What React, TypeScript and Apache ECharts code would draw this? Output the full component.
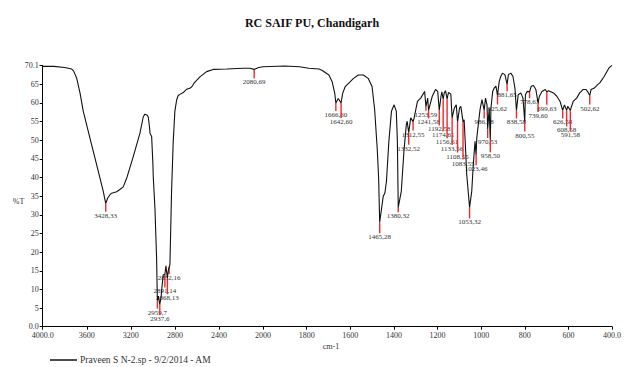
import React, { useEffect, useRef } from 'react';
import * as echarts from 'echarts';

const FONT = '"Liberation Serif", "Times New Roman", serif';

const chartTitle = 'RC SAIF PU, Chandigarh';
const seriesName = 'Praveen S N-2.sp - 9/2/2014 - AM';

// [wavenumber cm-1, %T]
const spectrum: [number, number][] = [
  [4000, 69.8], [3900, 69.8], [3800, 69.5], [3737, 69.1], [3720, 68.6], [3692, 66.7],
  [3660, 62.5], [3632, 57.8], [3571, 50.6], [3510, 43.4], [3450, 36.3], [3428, 33],
  [3410, 34.5], [3389, 35.4], [3374, 35.8], [3328, 36.2], [3300, 36.8], [3269, 37.5],
  [3238, 39.8], [3178, 45.6], [3117, 51.9], [3087, 56.3], [3072, 57.0], [3055, 56.8],
  [3042, 56.3], [3030, 53.5], [3026, 51.9], [3011, 51.0], [3000, 44], [2996, 40],
  [2981, 31.8], [2966, 18.4], [2959, 7], [2950, 8.2], [2937, 6], [2925, 8],
  [2915, 11.3], [2906, 13.9], [2891, 14], [2881, 16.3], [2868, 13], [2860, 15],
  [2852, 16], [2845, 16.6], [2830, 36.4], [2815, 49.7], [2800, 57.8], [2784, 60.8],
  [2770, 62], [2754, 62.3], [2724, 62.8], [2693, 63.7], [2660, 64.0], [2640, 64.6],
  [2624, 65.4], [2573, 67.0], [2512, 68.4], [2452, 69.0], [2330, 69.1], [2180, 69.3],
  [2120, 69.3], [2080, 69], [2040, 69.5], [2000, 69.7],
  [1900, 69.9], [1833, 69.7], [1790, 69.3], [1743, 69.1], [1728, 68.7], [1698, 67.5],
  [1683, 65.7], [1671, 62.6], [1666, 60], [1655, 61.2], [1642, 60], [1635, 62.5],
  [1623, 64.4], [1600, 65.7], [1585, 66.6], [1563, 67.5], [1540, 67.5], [1518, 66.6],
  [1500, 64.4], [1488, 58.1], [1476, 47.4], [1470, 40], [1465, 28], [1449, 34.9],
  [1441, 35.9], [1434, 39.0], [1423, 49.7], [1411, 57.8], [1399, 59.5], [1389, 57.8],
  [1384, 50], [1380, 32], [1366, 36.3], [1354, 47], [1343, 54.2], [1339, 55.1],
  [1332, 52], [1323, 56.0], [1312, 55], [1307, 56], [1292, 60.4], [1277, 61.3],
  [1259, 63.1], [1253, 59], [1245, 61.3], [1241, 58], [1224, 61.8], [1209, 63.6],
  [1199, 63.1], [1192, 58], [1184, 61.8], [1180, 63], [1174, 61], [1169, 62.7],
  [1163, 63.3], [1156, 61], [1150, 62.8], [1139, 62.4], [1133, 56], [1123, 58.6],
  [1114, 59.5], [1108, 55], [1099, 58.6], [1093, 59.1], [1083, 55], [1078, 55.5],
  [1073, 49.7], [1066, 40.8], [1058, 35.4], [1053, 32], [1043, 36.3], [1036, 43.4],
  [1028, 49.7], [1023, 46], [1020, 50.6], [1013, 54.2], [1005, 58.2], [996, 60.9],
  [986, 58], [980, 61.3], [973, 59.5], [970, 53], [963, 58.6], [958, 50],
  [955, 58.6], [947, 63.1], [940, 64], [932, 64.5], [925, 62], [917, 65.8],
  [910, 67.1], [902, 68.0], [891, 67.6], [881, 65], [875, 67.6], [864, 68.0],
  [854, 67.1], [845, 64], [838, 58], [830, 62.2], [818, 62.7], [808, 61.3],
  [800, 55], [797, 62.2], [789, 63.1], [778, 63], [770, 64.5], [760, 64.7],
  [749, 63.6], [739, 60], [733, 61.8], [721, 63.1], [706, 63.6], [699, 63],
  [691, 63.3], [668, 62.7], [653, 61.8], [638, 60.4], [626, 58], [618, 59.5],
  [608, 58], [603, 59.1], [591, 58], [588, 58.6], [578, 60.4], [562, 61.3],
  [548, 62.7], [533, 63.6], [519, 63.6], [508, 62.7], [502, 62], [496, 63.6],
  [481, 64], [466, 64.9], [456, 65.4], [436, 67.1], [414, 69.4], [400, 70.1],
];

const peakWavenumbers = [
  3428, 2080, 2959, 2937, 2891, 2868, 2852, 1666, 1642, 1465, 1380, 1332, 1312,
  1253, 1241, 1192, 1174, 1156, 1133, 1108, 1083, 1053, 1023, 986, 970, 958, 925,
  881, 838, 800, 778, 739, 699, 626, 608, 591, 502,
];
const peakTransmittance = [
  33, 69, 7, 6, 14, 13, 16, 60, 60, 28, 32, 52, 55,
  59, 58, 58, 61, 61, 56, 55, 55, 32, 46, 58, 53, 50, 62,
  65, 58, 55, 63, 60, 63, 58, 58, 58, 62,
];
// layout only: vertical distance (px) from the peak point to its label
const peakLabelDrop = [
  12, 13, 12, 15, 17, 20, 11, 12, 19, 15, 9, 16, 13,
  8, 12, 19, 36, 43, 31, 35, 42, 15, 14, 12, 13, 16, 13,
  11, 12, 14, 10.5, 13, 17, 12, 20, 25, 13,
];

const yTickLabel = (v: number) => {
  if (v === 0) return '0.0';
  if (v > 70.05) return '70.1';
  if (v === 70) return '';
  return String(v);
};

function buildOption() {
  const hi = spectrum.filter((d) => d[0] >= 2000);
  const lo = spectrum.filter((d) => d[0] <= 2000);
  const peaks = peakWavenumbers.map((w, i) => [w, peakTransmittance[i], peakLabelDrop[i]]);
  const peaksHi = peaks.filter((p) => p[0] >= 2000);
  const peaksLo = peaks.filter((p) => p[0] < 2000);

  const gridTop = 65.3;
  const gridHeight = 261.4;

  const axisCommon = {
    type: 'value' as const,
    inverse: true,
    axisLine: { show: true, lineStyle: { color: '#000', width: 1 } },
    axisTick: { show: true, length: 3, lineStyle: { color: '#000', width: 1 } },
    splitLine: { show: false },
  };

  const renderPeak = (params: any, api: any) => {
    const w = api.value(0);
    const t = api.value(1);
    const drop = api.value(2);
    const p = api.coord([w, t]);
    return {
      type: 'group',
      children: [
        {
          type: 'line',
          shape: { x1: p[0], y1: p[1], x2: p[0], y2: p[1] + drop - 4 },
          style: { stroke: '#f02828', lineWidth: 1.4 },
        },
        {
          type: 'text',
          x: p[0],
          y: p[1] + drop,
          style: {
            text: `${w},${t}`,
            fill: '#333',
            font: `7px ${FONT}`,
            align: 'center',
            verticalAlign: 'middle',
          },
        },
      ],
    };
  };

  return {
    animation: false,
    backgroundColor: '#fff',
    title: {
      text: chartTitle,
      left: 'center',
      top: 12,
      textStyle: { fontFamily: FONT, fontSize: 12, fontWeight: 'bold', color: '#111' },
    },
    legend: {
      data: [{ name: seriesName, icon: 'rect' }],
      left: 45,
      top: 350,
      itemWidth: 27,
      itemHeight: 1.5,
      textStyle: { fontFamily: FONT, fontSize: 9.5, color: '#333', padding: [0, 0, 0, -2] },
    },
    grid: [
      { left: 42.7, top: gridTop, width: 220.3, height: gridHeight },
      { left: 263, top: gridTop, width: 355, height: gridHeight },
    ],
    xAxis: [
      {
        ...axisCommon,
        gridIndex: 0,
        min: 2000,
        max: 4000,
        interval: 400,
        axisLabel: {
          fontFamily: FONT, fontSize: 8, color: '#333', margin: 5,
          formatter: (v: number) => (v === 4000 ? '4000.0' : String(v)),
        },
      },
      {
        ...axisCommon,
        gridIndex: 1,
        min: 400,
        max: 2000,
        interval: 200,
        axisLabel: {
          fontFamily: FONT, fontSize: 8, color: '#333', margin: 5, showMaxLabel: false,
          formatter: (v: number) => (v === 400 ? '400.0' : String(v)),
        },
      },
    ],
    yAxis: [
      {
        type: 'value',
        gridIndex: 0,
        min: 0,
        max: 70.1,
        interval: 5,
        axisLine: { show: true, lineStyle: { color: '#000', width: 1 } },
        axisTick: { show: true, length: 3, lineStyle: { color: '#000' } },
        splitLine: { show: false },
        axisLabel: { fontFamily: FONT, fontSize: 8, color: '#333', margin: 4, formatter: yTickLabel },
      },
      {
        type: 'value',
        gridIndex: 1,
        min: 0,
        max: 70.1,
        show: false,
        splitLine: { show: false },
      },
    ],
    graphic: [
      {
        type: 'text',
        x: 18.5,
        y: 201.5,
        style: { text: '%T', font: `8px ${FONT}`, fill: '#333', align: 'center', verticalAlign: 'middle' },
      },
      {
        type: 'text',
        x: 331,
        y: 346.5,
        style: { text: 'cm-1', font: `8px ${FONT}`, fill: '#333', align: 'center', verticalAlign: 'middle' },
      },
    ],
    series: [
      {
        type: 'custom',
        name: 'peaks-hi',
        xAxisIndex: 0,
        yAxisIndex: 0,
        data: peaksHi,
        renderItem: renderPeak,
        z: 1,
        silent: true,
      },
      {
        type: 'custom',
        name: 'peaks-lo',
        xAxisIndex: 1,
        yAxisIndex: 1,
        data: peaksLo,
        renderItem: renderPeak,
        z: 1,
        silent: true,
      },
      {
        type: 'line',
        name: seriesName,
        xAxisIndex: 0,
        yAxisIndex: 0,
        data: hi,
        showSymbol: false,
        symbol: 'none',
        color: '#111',
        lineStyle: { color: '#111', width: 1.1 },
        z: 3,
        silent: true,
      },
      {
        type: 'line',
        name: seriesName,
        xAxisIndex: 1,
        yAxisIndex: 1,
        data: lo,
        showSymbol: false,
        symbol: 'none',
        color: '#111',
        lineStyle: { color: '#111', width: 1.1 },
        z: 3,
        silent: true,
      },
    ],
  };
}

export default function App() {
  const ref = useRef<HTMLDivElement>(null);
  useEffect(() => {
    if (!ref.current) return;
    const chart = echarts.init(ref.current, null, { renderer: 'svg' });
    chart.setOption(buildOption() as any);
    return () => chart.dispose();
  }, []);
  return (
    <div
      ref={ref}
      style={{ position: 'fixed', left: 0, top: 0, width: 624, height: 367, background: '#fff' }}
    />
  );
}
